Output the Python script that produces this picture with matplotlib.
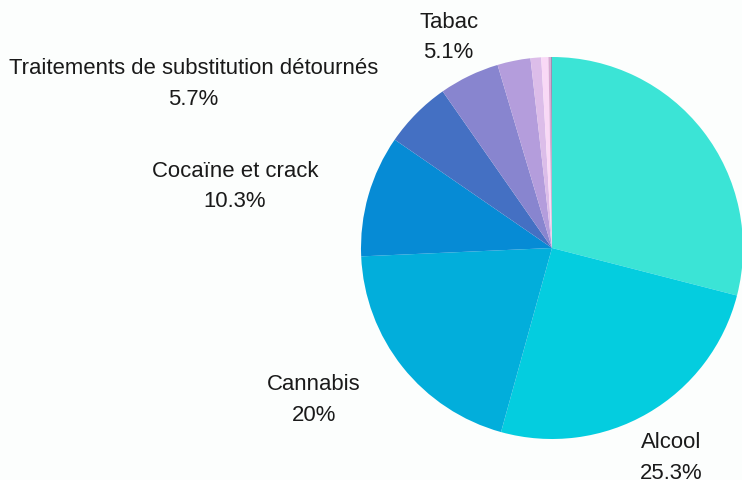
import numpy as np
import matplotlib
matplotlib.use("Agg")
import matplotlib.pyplot as plt

plt.rcParams['font.family'] = ['Liberation Sans', 'DejaVu Sans']

# parts of the pie, clockwise from 12 o'clock
labels = ['Opiacés', 'Alcool', 'Cannabis', 'Cocaïne et crack',
          'Traitements de substitution détournés', 'Tabac',
          '', '', '', '', '']
values = [29.0, 25.3, 20.0, 10.3, 5.7, 5.1, 2.8, 0.9, 0.6, 0.2, 0.1]
pct_text = ['29%', '25.3%', '20%', '10.3%', '5.7%', '5.1%', '', '', '', '', '']
colors = ['#3be4d6', '#04cddf', '#02aedb', '#068bd5', '#4470c3', '#8885cf',
          '#b49ddc', '#dcbde9', '#f9d9f6', '#d7a9d2', '#9c8db2']

fig = plt.figure(figsize=(7.42, 4.81), dpi=100, facecolor='#fcfefd')
ax = fig.add_axes([0, 0, 1, 1])
ax.set_facecolor('#fcfefd')

cx, cy, r = 552, 232, 191
wedges, _ = ax.pie(values, colors=colors, startangle=90, counterclock=False,
                   center=(cx, cy), radius=r, frame=True,
                   wedgeprops=dict(linewidth=0))
ax.set_xlim(0, 742)
ax.set_ylim(0, 481)
ax.axis('off')

# labels outside the pie
total = sum(values)
start = 0.0
for lab, v, p in zip(labels, values, pct_text):
    mid = start + v / 2
    start += v
    if not lab:
        continue
    ang = np.deg2rad(90 - mid / total * 360)
    dx, dy = np.cos(ang), np.sin(ang)
    x = cx + 238 * dx
    y = cy + 238 * dy - 3
    if dx < -0.6:
        ha = 'right'
        x -= 5
    elif dx > 0.6:
        ha = 'left'
        x += 2
    else:
        ha = 'center'
    ax.text(x, y, lab + '\n' + p, ha=ha, va='center', multialignment='center',
            fontsize=15.9, color='#1a1a1a', linespacing=1.6)

fig.savefig('out.png', facecolor=fig.get_facecolor())
